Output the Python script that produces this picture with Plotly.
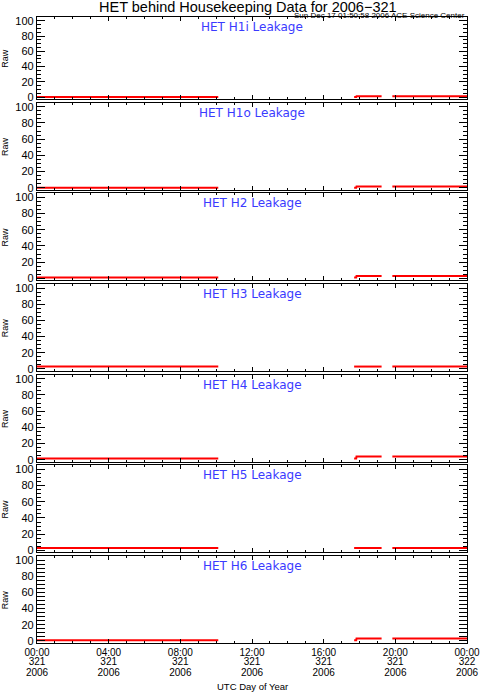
import plotly.graph_objects as go
from plotly.subplots import make_subplots

# ---------------- data ----------------
panel_titles = ["HET H1i Leakage", "HET H1o Leakage", "HET H2 Leakage", "HET H3 Leakage",
                "HET H4 Leakage", "HET H5 Leakage", "HET H6 Leakage"]

times = ["2006-11-17 00:00", "2006-11-17 10:07", None,
         "2006-11-17 17:42", "2006-11-17 17:49", "2006-11-17 17:50", "2006-11-17 19:14", None,
         "2006-11-17 19:50", "2006-11-18 00:00"]

h1i = [0, 0, None, 0, 0, 1, 1, None, 1, 1]
h1o = [0, 0, None, 0, 0, 1.5, 1.5, None, 1.5, 1.5]
h2 = [1, 1, None, 1, 1, 3, 3, None, 3, 3]
h3 = [3, 3, None, 3, 3, 3, 3, None, 3, 3]
h4 = [1.5, 1.5, None, 1.5, 1.5, 4, 4, None, 4, 4]
h5 = [3, 3, None, 3, 3, 3, 3, None, 3, 3]
h6 = [1, 1, None, 1, 1, 3, 3, None, 3, 3]
series = [h1i, h1o, h2, h3, h4, h5, h6]

tick_times = ["2006-11-17 00:00", "2006-11-17 04:00", "2006-11-17 08:00", "2006-11-17 12:00",
              "2006-11-17 16:00", "2006-11-17 20:00", "2006-11-18 00:00"]
tick_hhmm = ["00:00", "04:00", "08:00", "12:00", "16:00", "20:00", "00:00"]
tick_doy = ["321", "321", "321", "321", "321", "321", "322"]
tick_year = ["2006", "2006", "2006", "2006", "2006", "2006", "2006"]
y_ticks = [0, 20, 40, 60, 80, 100]

title = "HET behind Housekeeping Data for 2006\u2212321"
subtitle = "Sun Dec 17 01:50:58 2006 ACE Science Center"

# ---------------- layout geometry ----------------
W, H = 480, 692
TOP, BOT = 17, 643          # pixel top of first panel, bottom of last panel
L, R = 37, 467
PH = BOT - TOP
period = 90.67
X_RANGE = ["2006-11-17 00:00", "2006-11-18 00:00"]

def dom(top_px, bot_px):
    lo = max(0.0, (BOT - bot_px) / PH)
    hi = min(1.0, (BOT - top_px) / PH)
    return [lo, hi]

n = len(series)
fig = make_subplots(rows=n, cols=1, shared_xaxes=True, vertical_spacing=0.0)

FONT = "Liberation Sans"
TFONT = "DejaVu Sans"
for i, (name, vals) in enumerate(zip(panel_titles, series)):
    fig.add_trace(go.Scatter(x=times, y=vals, mode="lines",
                             line=dict(color="#ff0000", width=2),
                             connectgaps=False, showlegend=False, name=name),
                  row=i + 1, col=1)
    b = min(BOT, 99 + period * i)
    t = TOP if i == 0 else b - 87
    d = dom(t, b)
    ax = "yaxis" if i == 0 else f"yaxis{i+1}"
    fig.layout[ax].update(domain=d)
    fig.add_annotation(text=name, x=0.5, xref="paper", xanchor="center",
                       y=d[1], yref="paper", yanchor="top", yshift=-1, showarrow=False,
                       font=dict(family=TFONT, size=12, color="#3a3aff"))
    fig.add_annotation(text="Raw", x=-0.075, xref="paper", xanchor="center",
                       y=(d[0] + d[1]) / 2, yref="paper", yanchor="middle",
                       showarrow=False, textangle=-90,
                       font=dict(family=FONT, size=9, color="black"))

fig.update_yaxes(range=[-2.5, 105], tickvals=y_ticks, ticks="inside", ticklen=8,
                 tickwidth=1, tickcolor="black", showline=True, linecolor="black",
                 linewidth=1.2, mirror="allticks", showgrid=False, zeroline=False,
                 tickfont=dict(family=FONT, size=11, color="black"),
                 minor=dict(dtick=5, ticks="inside", ticklen=4, tickcolor="black",
                            tickwidth=1, showgrid=False))
fig.update_xaxes(type="date", range=X_RANGE,
                 tickvals=tick_times, ticktext=tick_hhmm, ticks="inside", ticklen=4,
                 tickwidth=1, tickcolor="black", showline=True, linecolor="black",
                 linewidth=1.2, mirror="allticks", showgrid=False, zeroline=False,
                 showticklabels=False,
                 minor=dict(dtick=3600000, ticks="inside", ticklen=2, tickcolor="black",
                            tickwidth=1, showgrid=False))
fig.update_xaxes(showticklabels=True, ticklabelstandoff=0,
                 tickfont=dict(family=FONT, size=10, color="black"), row=n, col=1)

# extra label rows (day of year, year) under the bottom axis
for k, (lbls, off) in enumerate([(tick_doy, 11), (tick_year, 22)]):
    xa = f"x{n + 1 + k}"
    fig.layout[f"xaxis{n + 1 + k}"] = dict(
        type="date", range=X_RANGE, overlaying=f"x{n}", anchor=f"y{n}", side="bottom",
        tickvals=tick_times, ticktext=lbls, ticks="", showline=False, showgrid=False,
        zeroline=False, ticklabelstandoff=off,
        tickfont=dict(family=FONT, size=10, color="black"))
    # empty carrier trace so the overlaid label axis gets drawn
    fig.add_trace(go.Scatter(x=[], y=[], xaxis=xa, yaxis=f"y{n}", mode="lines",
                             showlegend=False, hoverinfo="skip"))

fig.add_annotation(text=title, x=0.5, xref="paper", xanchor="center", xshift=-4,
                   y=(BOT - 7.5) / PH, yref="paper", yanchor="middle",
                   showarrow=False, font=dict(family=FONT, size=14.5, color="black"))
fig.add_annotation(text=subtitle, x=1.0, xref="paper", xanchor="right",
                   y=(BOT - 15) / PH, yref="paper", yanchor="middle", showarrow=False,
                   font=dict(family=FONT, size=8, color="black"))
fig.add_annotation(text="UTC Day of Year", x=0.5, xref="paper", xanchor="center",
                   y=(BOT - 686) / PH, yref="paper", yanchor="middle", showarrow=False,
                   font=dict(family=FONT, size=9.5, color="black"))

fig.update_layout(width=W, height=H, plot_bgcolor="white", paper_bgcolor="white",
                  margin=dict(l=L, r=W - R, t=TOP, b=H - BOT, autoexpand=False),
                  showlegend=False)

fig.write_html("out.html", config={"displayModeBar": False},
               post_script="document.body.style.margin='0';document.body.style.padding='0';")
